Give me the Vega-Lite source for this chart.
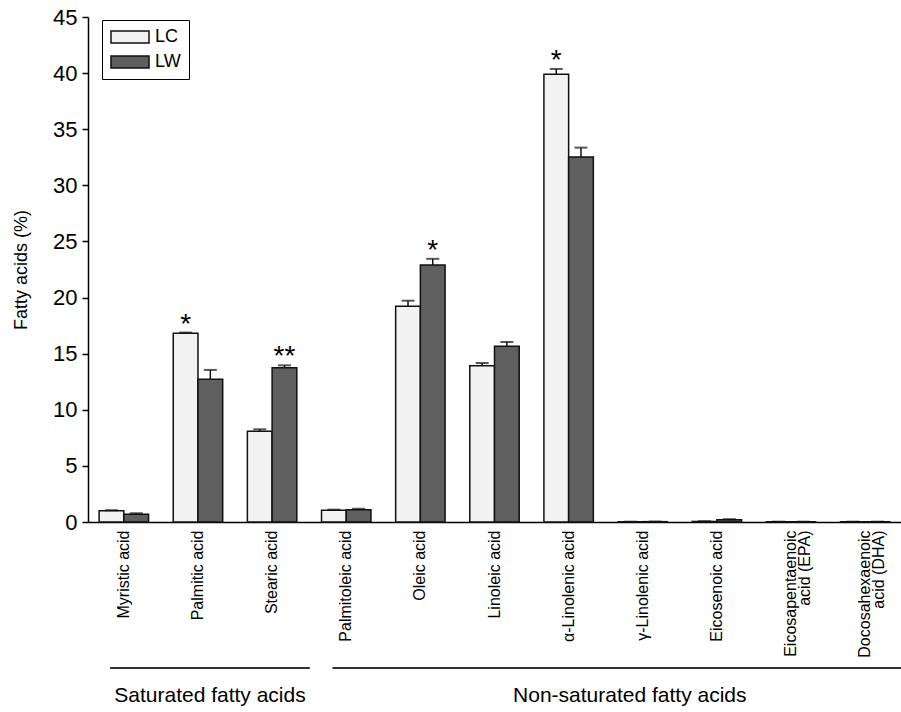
{
  "$schema": "https://vega.github.io/schema/vega-lite/v6.json",
  "width": 813,
  "height": 505,
  "autosize": {"type": "none"},
  "padding": {"left": 88, "top": 17, "right": 0, "bottom": 190},
  "background": "white",
  "config": {
    "view": {"stroke": null},
    "font": "Liberation Sans",
    "axis": {"labelFont": "Liberation Sans", "titleFont": "Liberation Sans"},
    "legend": {"labelFont": "Liberation Sans"}
  },
  "datasets": {
    "bars": [
      {"acid": "Myristic acid", "diet": "LC", "value": 1.0, "upper": 1.05},
      {"acid": "Myristic acid", "diet": "LW", "value": 0.7, "upper": 0.78},
      {"acid": "Palmitic acid", "diet": "LC", "value": 16.82, "upper": 16.88},
      {"acid": "Palmitic acid", "diet": "LW", "value": 12.72, "upper": 13.55},
      {"acid": "Stearic acid", "diet": "LC", "value": 8.08, "upper": 8.26},
      {"acid": "Stearic acid", "diet": "LW", "value": 13.75, "upper": 13.96},
      {"acid": "Palmitoleic acid", "diet": "LC", "value": 1.05, "upper": 1.1},
      {"acid": "Palmitoleic acid", "diet": "LW", "value": 1.1, "upper": 1.18},
      {"acid": "Oleic acid", "diet": "LC", "value": 19.22, "upper": 19.72},
      {"acid": "Oleic acid", "diet": "LW", "value": 22.9, "upper": 23.45},
      {"acid": "Linoleic acid", "diet": "LC", "value": 13.93, "upper": 14.17},
      {"acid": "Linoleic acid", "diet": "LW", "value": 15.66, "upper": 16.04},
      {"acid": "α-Linolenic acid", "diet": "LC", "value": 39.9, "upper": 40.37},
      {"acid": "α-Linolenic acid", "diet": "LW", "value": 32.53, "upper": 33.36},
      {"acid": "γ-Linolenic acid", "diet": "LC", "value": 0.02, "upper": 0.03},
      {"acid": "γ-Linolenic acid", "diet": "LW", "value": 0.03, "upper": 0.04},
      {"acid": "Eicosenoic acid", "diet": "LC", "value": 0.05, "upper": 0.07},
      {"acid": "Eicosenoic acid", "diet": "LW", "value": 0.2, "upper": 0.25},
      {"acid": "Eicosapentaenoic acid (EPA)", "diet": "LC", "value": 0.02, "upper": 0.03},
      {"acid": "Eicosapentaenoic acid (EPA)", "diet": "LW", "value": 0.02, "upper": 0.03},
      {"acid": "Docosahexaenoic acid (DHA)", "diet": "LC", "value": 0.02, "upper": 0.03},
      {"acid": "Docosahexaenoic acid (DHA)", "diet": "LW", "value": 0.02, "upper": 0.03}
    ],
    "sig": [
      {"acid": "Palmitic acid", "diet": "LC", "upper": 16.88, "mark": "*"},
      {"acid": "Stearic acid", "diet": "LW", "upper": 13.96, "mark": "**"},
      {"acid": "Oleic acid", "diet": "LW", "upper": 23.45, "mark": "*"},
      {"acid": "α-Linolenic acid", "diet": "LC", "upper": 40.37, "mark": "*"}
    ],
    "groups": [
      {"group": "Saturated fatty acids", "from": "Myristic acid", "to": "Stearic acid", "mid": "Palmitic acid"},
      {"group": "Non-saturated fatty acids", "from": "Palmitoleic acid", "to": "Docosahexaenoic acid (DHA)", "mid": "γ-Linolenic acid"}
    ]
  },
  "layer": [
    {
      "data": {"name": "bars"},
      "mark": {"type": "bar", "stroke": "#111", "strokeWidth": 1.5},
      "encoding": {
        "x": {
          "field": "acid", "type": "nominal", "title": null,
          "scale": {
            "domain": ["Myristic acid", "Palmitic acid", "Stearic acid", "Palmitoleic acid", "Oleic acid", "Linoleic acid", "α-Linolenic acid", "γ-Linolenic acid", "Eicosenoic acid", "Eicosapentaenoic acid (EPA)", "Docosahexaenoic acid (DHA)"],
            "paddingInner": 0.333, "paddingOuter": 0.15
          },
          "axis": {
            "title": null, "labelAngle": -90, "ticks": false,
            "domainColor": "#000", "domainWidth": 1.5,
            "labelFontSize": 16, "labelColor": "#000", "labelPadding": 8, "labelLimit": 0,
            "labelLineHeight": 14,
            "labelExpr": "datum.value == 'Eicosapentaenoic acid (EPA)' ? ['Eicosapentaenoic', 'acid (EPA)'] : datum.value == 'Docosahexaenoic acid (DHA)' ? ['Docosahexaenoic', 'acid (DHA)'] : datum.value"
          }
        },
        "xOffset": {"field": "diet", "type": "nominal", "scale": {"domain": ["LC", "LW"], "paddingInner": 0, "paddingOuter": 0}},
        "y": {
          "field": "value", "type": "quantitative", "title": "Fatty acids (%)",
          "scale": {"domain": [0, 45], "nice": false},
          "axis": {
            "title": "Fatty acids (%)", "titleFontSize": 18, "titleFontWeight": "normal", "titleColor": "#000", "titlePadding": 22,
            "labelFontSize": 22, "labelColor": "#000", "labelPadding": 5,
            "tickColor": "#000", "tickSize": 6, "tickWidth": 1.5,
            "domainColor": "#000", "domainWidth": 1.5, "grid": false,
            "values": [0, 5, 10, 15, 20, 25, 30, 35, 40, 45]
          }
        },
        "fill": {
          "field": "diet", "type": "nominal",
          "scale": {"domain": ["LC", "LW"], "range": ["#f2f2f2", "#5f5f5f"]},
          "legend": {
            "title": null, "orient": "none", "legendX": 14, "legendY": 3, "direction": "vertical",
            "symbolType": "M-3.17,-1H3.17V1H-3.17Z", "symbolSize": 144, "symbolOffset": 11,
            "symbolStrokeColor": "#111", "symbolStrokeWidth": 1.5, "symbolOpacity": 1,
            "labelFontSize": 18, "labelColor": "#000", "labelOffset": 16,
            "strokeColor": "#000", "fillColor": "white", "padding": 8, "rowPadding": 7
          }
        }
      }
    },
    {
      "data": {"name": "bars"},
      "mark": {"type": "rule", "stroke": "#111", "strokeWidth": 1.5},
      "encoding": {
        "x": {"field": "acid", "type": "nominal", "title": null},
        "xOffset": {"field": "diet", "type": "nominal"},
        "y": {"field": "value", "type": "quantitative", "title": "Fatty acids (%)"},
        "y2": {"field": "upper"}
      }
    },
    {
      "data": {"name": "bars"},
      "mark": {"type": "tick", "orient": "horizontal", "size": 13, "thickness": 2, "color": "#111"},
      "encoding": {
        "x": {"field": "acid", "type": "nominal", "title": null},
        "xOffset": {"field": "diet", "type": "nominal"},
        "y": {"field": "upper", "type": "quantitative", "title": "Fatty acids (%)"}
      }
    },
    {
      "data": {"name": "sig"},
      "mark": {"type": "text", "fontSize": 28, "baseline": "alphabetic", "dy": 0, "color": "#000", "font": "Liberation Sans"},
      "encoding": {
        "x": {"field": "acid", "type": "nominal", "title": null},
        "xOffset": {"field": "diet", "type": "nominal"},
        "y": {"field": "upper", "type": "quantitative", "title": "Fatty acids (%)"},
        "text": {"field": "mark"}
      }
    },
    {
      "data": {"name": "groups"},
      "mark": {"type": "rule", "stroke": "#333", "strokeWidth": 2, "xOffset": 11, "x2Offset": 13},
      "encoding": {
        "x": {"field": "from", "type": "nominal", "bandPosition": 0, "title": null},
        "x2": {"field": "to", "bandPosition": 1},
        "y": {"datum": -13, "type": "quantitative", "title": "Fatty acids (%)"}
      }
    },
    {
      "data": {"name": "groups"},
      "transform": [{"filter": "datum.group == 'Saturated fatty acids'"}],
      "mark": {"type": "text", "fontSize": 21, "dx": 12, "align": "center", "baseline": "middle", "color": "#000", "font": "Liberation Sans"},
      "encoding": {
        "x": {"field": "mid", "type": "nominal", "title": null},
        "y": {"datum": -15.5, "type": "quantitative", "title": "Fatty acids (%)"},
        "text": {"field": "group"}
      }
    },
    {
      "data": {"name": "groups"},
      "transform": [{"filter": "datum.group == 'Non-saturated fatty acids'"}],
      "mark": {"type": "text", "fontSize": 21, "dx": -13, "align": "center", "baseline": "middle", "color": "#000", "font": "Liberation Sans"},
      "encoding": {
        "x": {"field": "mid", "type": "nominal", "title": null},
        "y": {"datum": -15.5, "type": "quantitative", "title": "Fatty acids (%)"},
        "text": {"field": "group"}
      }
    }
  ]
}
